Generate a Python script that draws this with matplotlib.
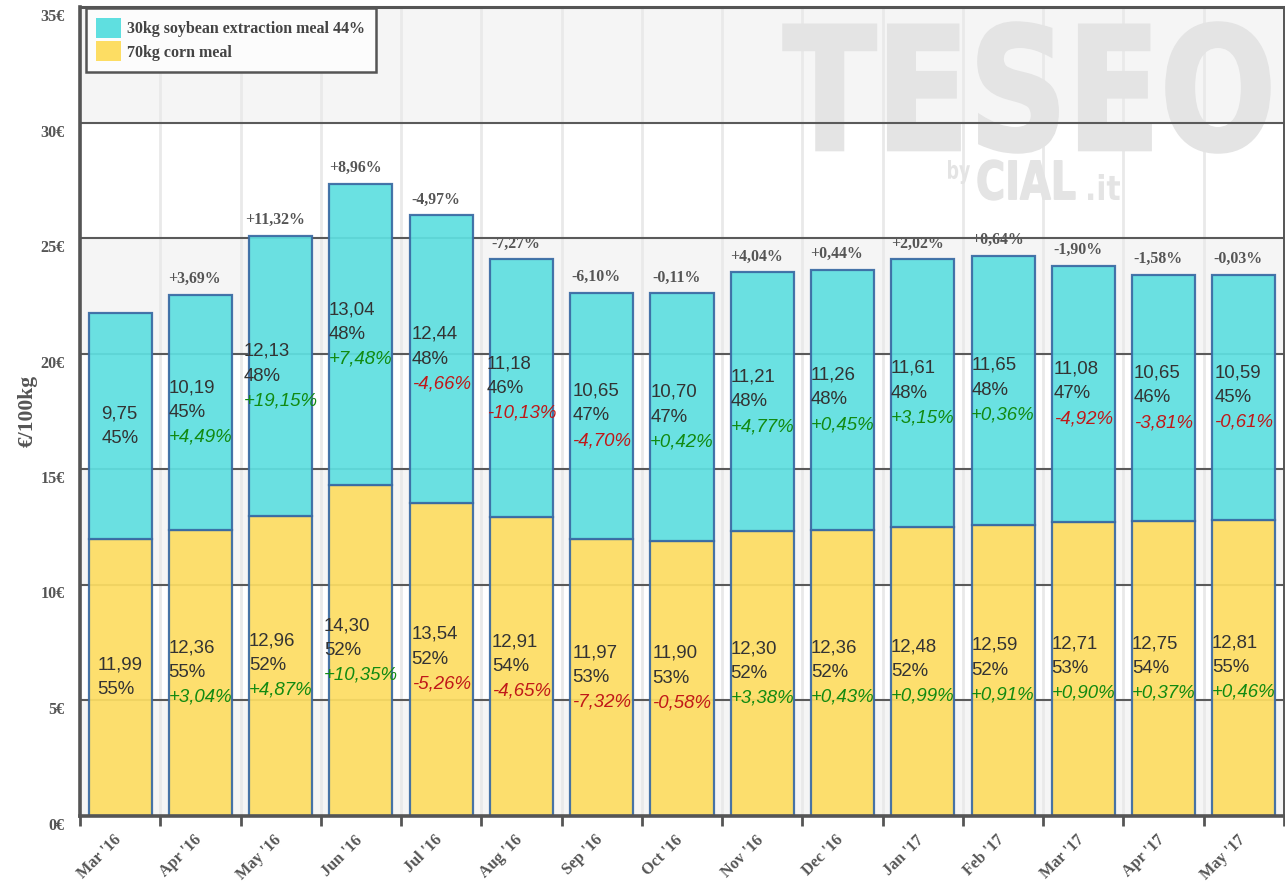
import matplotlib
matplotlib.use("Agg")
import matplotlib.pyplot as plt
import matplotlib.transforms as mtransforms
from matplotlib.offsetbox import TextArea, VPacker, AnnotationBbox
from matplotlib.textpath import TextPath
from matplotlib.patches import PathPatch
from matplotlib.font_manager import FontProperties
import numpy as np

# ---------------- data ----------------
months = ["Mar '16", "Apr '16", "May '16", "Jun '16", "Jul '16", "Aug '16", "Sep '16",
          "Oct '16", "Nov '16", "Dec '16", "Jan '17", "Feb '17", "Mar '17", "Apr '17", "May '17"]

corn_values = [11.99, 12.36, 12.96, 14.30, 13.54, 12.91, 11.97, 11.90, 12.30, 12.36,
               12.48, 12.59, 12.71, 12.75, 12.81]
corn_share = [55, 55, 52, 52, 52, 54, 53, 53, 52, 52, 52, 52, 53, 54, 55]
corn_change = [None, 3.04, 4.87, 10.35, -5.26, -4.65, -7.32, -0.58, 3.38, 0.43,
               0.99, 0.91, 0.90, 0.37, 0.46]

soy_values = [9.75, 10.19, 12.13, 13.04, 12.44, 11.18, 10.65, 10.70, 11.21, 11.26,
              11.61, 11.65, 11.08, 10.65, 10.59]
soy_share = [45, 45, 48, 48, 48, 46, 47, 47, 48, 48, 48, 48, 47, 46, 45]
soy_change = [None, 4.49, 19.15, 7.48, -4.66, -10.13, -4.70, 0.42, 4.77, 0.45,
              3.15, 0.36, -4.92, -3.81, -0.61]

total_change = [None, 3.69, 11.32, 8.96, -4.97, -7.27, -6.10, -0.11, 4.04, 0.44,
                2.02, 0.64, -1.90, -1.58, -0.03]

series_names = ["30kg soybean extraction meal 44%", "70kg corn meal"]
y_ticks = [0, 5, 10, 15, 20, 25, 30, 35]

# ---------------- style ----------------
SOY = "#5fdfe0"
CORN = "#fddd63"
EDGE = "#3a6aa3"
GREY = "#555555"
TXT = "#333333"
GREEN = "#118a11"
RED = "#c01818"
SERIF = ["Liberation Serif", "DejaVu Serif"]
SANS = ["Liberation Sans", "DejaVu Sans"]


def fmt_val(v):
    return f"{v:.2f}".replace(".", ",")


def fmt_chg(v):
    return f"{v:+.2f}".replace(".", ",") + "%"


W, H = 1285, 883
fig = plt.figure(figsize=(W / 100, H / 100), dpi=100)
fig.patch.set_facecolor("white")
left_px, right_px, top_px, bottom_px = 80, 1284, 7, 815.5
ax = fig.add_axes([left_px / W, 1 - bottom_px / H, (right_px - left_px) / W, (bottom_px - top_px) / H])
ax.set_facecolor("white")

n = len(months)
x = np.arange(n)
ax.set_xlim(-0.5, n - 0.5)
ax.set_ylim(0, 35)

# alternating background bands
for i in range(len(y_ticks) - 1):
    if i % 2 == 0:
        ax.axhspan(y_ticks[i], y_ticks[i + 1], color="#f5f5f5", zorder=0, lw=0)

# vertical category boundary lines
for b in np.arange(-0.5, n, 1.0):
    ax.axvline(b, color="#e9e9e9", lw=2.0, zorder=0.2)

# horizontal grid lines
for t in y_ticks[1:-1]:
    ax.axhline(t, color="#5a5a5a", lw=1.5, zorder=1.0)


# watermark drawn as scaled text paths (pixel boxes from the reference layout)
def watermark(text, x0, x1, y0, y1, lw=0.0, size=100):
    fp = FontProperties(family=["DejaVu Sans"], weight="bold")
    tp = TextPath((0, 0), text, size=size, prop=fp)
    ext = tp.get_extents()
    sx = (x1 - x0) / ext.width
    sy = (y1 - y0) / ext.height
    tr = (mtransforms.Affine2D().translate(-ext.x0, -ext.y0).scale(sx, sy)
          .translate(x0, H - y1) + mtransforms.IdentityTransform())
    patch = PathPatch(tp, facecolor="#e4e4e4", edgecolor="#e4e4e4", linewidth=lw,
                      transform=tr, zorder=0.3)
    patch.set_clip_on(False)
    ax.add_artist(patch)


watermark("TESEO", 784, 1269, 23, 152, lw=2.5)
watermark("by", 948, 970, 160, 184)
watermark("CIAL", 978, 1075, 160, 200, lw=1.0)
watermark(".it", 1088, 1120, 174, 200)

# bars
bw = 0.785
b_corn = ax.bar(x, corn_values, width=bw, color=CORN, edgecolor=EDGE, linewidth=1.6,
                alpha=0.93, zorder=2, label=series_names[1])
b_soy = ax.bar(x, soy_values, width=bw, bottom=corn_values, color=SOY, edgecolor=EDGE,
               linewidth=1.6, alpha=0.93, zorder=2, label=series_names[0])


def block(xc, yc, val, share, chg):
    fs = 13.4
    props = dict(fontsize=fs, family=SANS, color=TXT)
    kids = [TextArea(fmt_val(val), textprops=props),
            TextArea(f"{share}%", textprops=props)]
    if chg is not None:
        kids.append(TextArea(fmt_chg(chg), textprops=dict(fontsize=fs, family=SANS,
                                                           style="italic",
                                                           color=GREEN if chg >= 0 else RED)))
    pack = VPacker(children=kids, align="left", pad=0, sep=5.5)
    ab = AnnotationBbox(pack, (xc, yc), xycoords="data", box_alignment=(0.5, 0.5),
                        frameon=False, pad=0, zorder=3)
    ax.add_artist(ab)


for i in range(n):
    c = corn_values[i]
    s = soy_values[i]
    block(x[i], c / 2, c, corn_share[i], corn_change[i])
    block(x[i], c + s / 2, s, soy_share[i], soy_change[i])
    if total_change[i] is not None:
        ax.annotate(fmt_chg(total_change[i]), (x[i] - 0.07, c + s), xytext=(0, 5.5),
                    textcoords="offset points", ha="center", va="bottom",
                    fontsize=11.4, fontweight="bold", family=SERIF, color=GREY, zorder=0.8)

# spines
for side in ["left", "bottom"]:
    ax.spines[side].set_color(GREY)
    ax.spines[side].set_linewidth(2.6)
ax.spines["top"].set_color(GREY)
ax.spines["top"].set_linewidth(2.2)
ax.spines["right"].set_color(GREY)
ax.spines["right"].set_linewidth(1.4)
for sp in ax.spines.values():
    sp.set_zorder(5)

# y axis
ax.set_yticks(y_ticks)
ax.set_yticklabels([f"{t}€" for t in y_ticks])
ax.tick_params(axis="y", length=0, pad=11)
for lab in ax.get_yticklabels():
    lab.set_fontfamily(SERIF)
    lab.set_fontweight("bold")
    lab.set_fontsize(11.6)
    lab.set_color(GREY)
    lab.set_transform(lab.get_transform() + mtransforms.ScaledTranslation(0, -0.08, fig.dpi_scale_trans))
ax.set_ylabel("€/100kg", fontsize=15.5, fontweight="bold", family=SERIF, color=GREY, labelpad=2)

# x axis
ax.set_xticks(x)
ax.set_xticklabels(months)
ax.set_xticks(np.arange(-0.5, n, 1.0), minor=True)
ax.tick_params(axis="x", which="major", length=0, pad=12)
ax.tick_params(axis="x", which="minor", length=7, width=2, color=GREY, direction="out")
for lab in ax.get_xticklabels():
    lab.set_fontfamily(SERIF)
    lab.set_fontweight("bold")
    lab.set_fontsize(11.6)
    lab.set_color(GREY)
    lab.set_rotation(45)
    lab.set_ha("right")
    lab.set_va("top")
    lab.set_rotation_mode("anchor")
    lab.set_transform(lab.get_transform() + mtransforms.ScaledTranslation(-0.07, 0, fig.dpi_scale_trans))

# legend
leg = ax.legend(handles=[b_soy, b_corn], labels=series_names, loc="upper left",
                bbox_to_anchor=(0.004, 1.0), frameon=True, fancybox=False,
                prop=dict(family=SERIF, weight="bold", size=11.5),
                handlelength=1.55, handleheight=1.55, handletextpad=0.4,
                labelspacing=0.2, borderpad=0.65, borderaxespad=0.05)
leg.get_frame().set_edgecolor(GREY)
leg.get_frame().set_linewidth(1.8)
leg.get_frame().set_facecolor("#fcfcfc")
leg.get_frame().set_alpha(1)
leg.set_zorder(6)
for t in leg.get_texts():
    t.set_color("#444444")
for h in leg.legend_handles:
    h.set_edgecolor("none")
    h.set_alpha(1)

fig.savefig("out.png", dpi=100)
